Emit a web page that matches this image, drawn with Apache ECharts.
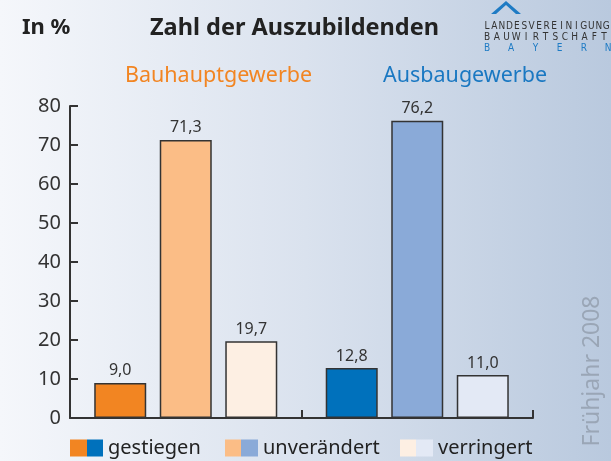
<!DOCTYPE html>
<html><head><meta charset="utf-8">
<script src="https://cdn.jsdelivr.net/npm/echarts@6/dist/echarts.min.js"></script>
<style>html,body{margin:0;padding:0;}#c{width:611px;height:461px;}</style>
</head><body><div id="c"></div>
<script>
const categories = ['Bauhauptgewerbe', 'Ausbaugewerbe'];
const gestiegen = [9.0, 12.8];
const unveraendert = [71.3, 76.2];
const verringert = [19.7, 11.0];
const seriesNames = ['gestiegen', 'unverändert', 'verringert'];
const yTicks = [0, 10, 20, 30, 40, 50, 60, 70, 80];

const colors = [
  ['#F28522', '#0071BC'],
  ['#FBBD86', '#8AAAD8'],
  ['#FDEFE3', '#E3E9F5']
];
const FONT = '"Noto Sans", "Open Sans", sans-serif';

const chart = echarts.init(document.getElementById('c'), null, {renderer: 'canvas'});

function mkSeries(name, data, ci) {
  return {
    name: name, type: 'bar', barWidth: 52, barGap: '26%',
    data: data.map((v, i) => ({value: v, itemStyle: {color: colors[ci][i]}})),
    itemStyle: {borderColor: '#333', borderWidth: 1.5},
    label: {show: true, position: 'top', distance: 4, color: '#333', fontSize: 16, fontFamily: FONT,
      formatter: p => p.value.toFixed(1).replace('.', ',')}
  };
}
function grad(ci) {
  return new echarts.graphic.LinearGradient(0, 0, 1, 0, [
    {offset: 0, color: colors[ci][0]}, {offset: 0.5, color: colors[ci][0]},
    {offset: 0.5, color: colors[ci][1]}, {offset: 1, color: colors[ci][1]}]);
}
function mkLegend(ci, left) {
  return {
    left: left, top: 438, itemWidth: 33, itemHeight: 17, itemGap: 5, padding: 0,
    icon: 'rect',
    textStyle: {fontSize: 20, color: '#222', fontFamily: FONT},
    data: [{name: seriesNames[ci], itemStyle: {color: grad(ci), borderWidth: 0}}]
  };
}

// logo letters
const logoLines = [
  {t: 'LANDESVEREINIGUNG', y: 26, c: '#333', x0: 487, dx: 7.45},
  {t: 'BAUWIRTSCHAFT', y: 37, c: '#333', x0: 487, dx: 9.75},
  {t: 'BAYERN', y: 48, c: '#1E7BC4', x0: 487, dx: 24.2}
];
const logoEls = [];
logoLines.forEach(l => {
  [...l.t].forEach((ch, i) => {
    logoEls.push({type: 'text', x: l.x0 + i * l.dx, y: l.y,
      style: {text: ch, fill: l.c, font: '10px "DejaVu Sans Condensed", "Liberation Sans Narrow", sans-serif', textAlign: 'center', textVerticalAlign: 'middle'}});
  });
});

chart.setOption({
  backgroundColor: new echarts.graphic.LinearGradient(0, 0, 1, 0, [
    {offset: 0, color: '#F5F7FB'}, {offset: 0.5, color: '#DAE2EE'}, {offset: 1, color: '#B9C9DE'}]),
  animation: false,
  grid: {left: 70, right: 78, top: 106, bottom: 43, containLabel: false},
  xAxis: {
    type: 'category', data: categories,
    axisLine: {lineStyle: {color: '#333', width: 2}},
    axisTick: {show: true, inside: true, length: 8, lineStyle: {color: '#333', width: 2}},
    axisLabel: {show: false}
  },
  yAxis: {
    type: 'value', min: yTicks[0], max: yTicks[yTicks.length - 1], interval: 10,
    axisLine: {show: true, lineStyle: {color: '#333', width: 2}},
    axisTick: {show: true, inside: true, length: 8, lineStyle: {color: '#333', width: 2}},
    splitLine: {show: false},
    axisLabel: {color: '#333', fontSize: 20, fontFamily: FONT, margin: 9}
  },
  legend: [mkLegend(0, 70), mkLegend(1, 225), mkLegend(2, 400)],
  series: [
    mkSeries(seriesNames[0], gestiegen, 0),
    mkSeries(seriesNames[1], unveraendert, 1),
    mkSeries(seriesNames[2], verringert, 2)
  ],
  graphic: [
    {type: 'text', left: 22, top: 17, style: {text: 'In %', fill: '#222', font: 'bold 22px ' + FONT}},
    {type: 'text', left: 150, top: 16, style: {text: 'Zahl der Auszubildenden', fill: '#222', font: 'bold 23.5px ' + FONT}},
    {type: 'text', left: 125, top: 65, style: {text: categories[0], fill: '#F28522', font: '21.5px ' + FONT}},
    {type: 'text', left: 383, top: 65, style: {text: categories[1], fill: '#1A78C2', font: '21.5px ' + FONT}},
    {type: 'polygon', shape: {points: [[491, 14], [506, 1], [521, 14], [516, 14], [506, 5], [496, 14]]}, style: {fill: '#1E7BC4'}},
    {type: 'text', x: 592, y: 371, rotation: Math.PI / 2,
      style: {text: 'Frühjahr 2008', fill: '#9AA6B6', font: '23px ' + FONT, textAlign: 'center', textVerticalAlign: 'middle'}}
  ].concat(logoEls)
});
</script></body></html>
